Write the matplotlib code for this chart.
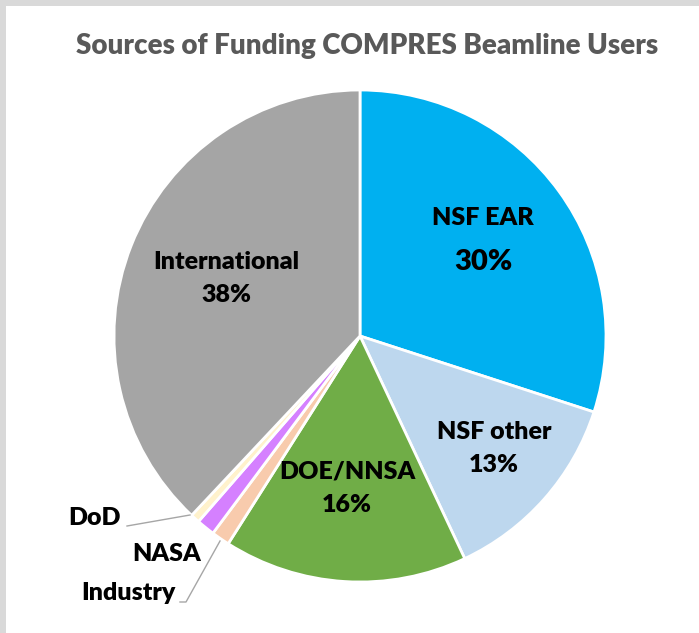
import numpy as np
import matplotlib
matplotlib.use('Agg')
import matplotlib.pyplot as plt
from matplotlib.patches import Rectangle

# data
sources = ['NSF EAR', 'NSF other', 'DOE/NNSA', 'Industry', 'NASA', 'DoD', 'International']
shares = [30, 13, 16, 1.2, 1.2, 0.6, 38]
pct_labels = ['30%', '13%', '16%', '', '', '', '38%']
colors = ['#00B0F0', '#BDD7EE', '#70AD47', '#F8CBAD', '#D580FF', '#FFF2CC', '#A5A5A5']

plt.rcParams['font.family'] = ['Lato', 'DejaVu Sans']

W, H = 699, 633
fig = plt.figure(figsize=(W / 100, H / 100), dpi=100)
fig.patch.set_facecolor('#D9D9D9')
ax = fig.add_axes([0, 0, 1, 1])

# white panel (grey frame shows on top and left)
ax.add_patch(Rectangle((6, 0), W - 6, H - 6, facecolor='white', edgecolor='none', zorder=0))

cx, cy, R = 360, H - 336, 246
wedges, _ = ax.pie(shares, colors=colors, startangle=90, counterclock=False,
                   center=(cx, cy), radius=R, frame=True,
                   wedgeprops=dict(edgecolor='white', linewidth=2))
ax.set_xlim(0, W)
ax.set_ylim(0, H)
ax.set_aspect('equal')
ax.axis('off')

fs = 18
fw = 'heavy'
# labels inside big slices (pixel positions from the top)
inner = {
    'NSF EAR': (483, 218, 262),
    'NSF other': (494, 432, 465),
    'DOE/NNSA': (347, 472, 505),
    'International': (226, 262, 295),
}
for name, (x, y1, y2) in inner.items():
    i = sources.index(name)
    ax.text(x, H - y1, name, ha='center', va='center', fontsize=fs, fontweight=fw, color='black')
    ax.text(x, H - y2, pct_labels[i], ha='center', va='center',
            fontsize=fs + (3 if name == 'NSF EAR' else 0), fontweight=fw, color='black')

# small slices with outside labels
ax.text(121, H - 518, 'DoD', ha='right', va='center', fontsize=fs, fontweight=fw)
ax.text(167, H - 554, 'NASA', ha='center', va='center', fontsize=fs, fontweight=fw)
ax.text(176, H - 593, 'Industry', ha='right', va='center', fontsize=fs, fontweight=fw)
ax.plot([127, 190], [H - 526, H - 515], color='#A6A6A6', lw=1)
ax.plot([180, 186, 220], [H - 602, H - 602, H - 541], color='#A6A6A6', lw=1)

ax.text(367, H - 46, 'Sources of Funding COMPRES Beamline Users', ha='center', va='center',
        fontsize=20, fontweight=fw, color='#595959')

fig.savefig('out.png', dpi=100, facecolor=fig.get_facecolor())
